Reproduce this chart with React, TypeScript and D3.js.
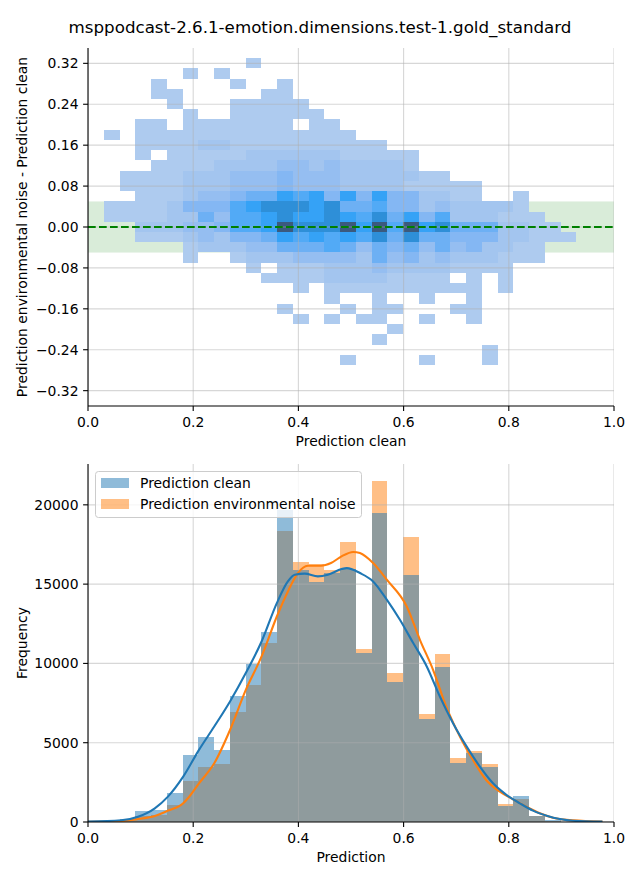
import React from "react";
import * as d3 from "d3";

const chartTitle = "msppodcast-2.6.1-emotion.dimensions.test-1.gold_standard";

// ---------- top: 2D histogram (density level per cell, rows top -> bottom) ----------
const heatXStart = 0.0304;
const heatXStep = 0.02993;
const heatYBottom = -0.2698;
const heatYStep = 0.02;
const heatRows = [
  "000000000100000000000000000000",
  "000001010000000000000000000000",
  "000100001001000000000000000000",
  "000110000011000000000000000000",
  "000010001111100000000000000000",
  "000001001111110000000000000000",
  "001101111111011000000000000000",
  "101111111111111100000000000000",
  "001111221111111111000000000000",
  "001011111222222111110000000000",
  "000111122223323222210000000000",
  "011112223334333222221100000000",
  "011112223334333222211111000000",
  "001112334557674747442211001000",
  "111124446788878556442322221000",
  "111122536678778768574622211100",
  "002223346679888979697855522110",
  "001112324457676768585544422111",
  "000001222335556535453534221100",
  "000001001222333325342322211100",
  "000000000101112223222211110000",
  "000000000011112222111101010000",
  "000000000000101111111111010000",
  "000000000000001001001001000000",
  "000000000001000101100011000000",
  "000000000000101011001001000000",
  "000000000000000000100000000000",
  "000000000000000001000000000000",
  "000000000000000000000000100000",
  "000000000000000100001000100000",
];
const topXTicks = [0, 0.2, 0.4, 0.6, 0.8, 1.0];
const topYTicks = [0.32, 0.24, 0.16, 0.08, 0, -0.08, -0.16, -0.24, -0.32];
const bandHalfWidth = 0.05;

// ---------- bottom: histograms ----------
const histStart = 0.0304;
const histStep = 0.02993;
const cleanCounts = [50, 200, 700, 760, 1830, 4230, 5370, 4545, 7950, 9975, 11990, 19700, 15910, 15150, 15700, 15970, 10670, 19510, 8840, 15590, 6500, 9790, 3720, 4360, 3470, 1010, 1640, 400, 100, 30];
const noiseCounts = [20, 100, 380, 420, 1070, 2590, 3470, 3660, 6940, 8650, 11300, 18370, 16410, 16270, 15900, 17680, 10920, 21530, 9400, 17990, 6820, 10600, 4040, 4480, 3660, 1140, 1450, 380, 90, 30];

const kdeCleanX = [0.0, 0.063, 0.095, 0.127, 0.152, 0.181, 0.211, 0.24, 0.27, 0.3, 0.33, 0.359, 0.38, 0.393, 0.412, 0.437, 0.456, 0.482, 0.492, 0.517, 0.542, 0.568, 0.593, 0.618, 0.644, 0.669, 0.694, 0.72, 0.745, 0.77, 0.796, 0.821, 0.846, 0.872, 0.897, 0.922, 0.978];
const kdeCleanY = [30, 107, 335, 865, 1600, 2860, 4545, 6020, 7600, 9390, 11380, 13800, 15170, 15590, 15660, 15490, 15590, 15950, 16010, 15700, 15170, 14020, 12750, 11300, 9810, 7910, 6230, 4750, 3490, 2440, 1700, 1180, 715, 400, 190, 82, 30];
const kdeNoiseX = [0.0, 0.063, 0.095, 0.127, 0.152, 0.181, 0.19, 0.211, 0.24, 0.27, 0.3, 0.33, 0.359, 0.38, 0.399, 0.418, 0.443, 0.462, 0.482, 0.504, 0.517, 0.542, 0.568, 0.606, 0.631, 0.656, 0.681, 0.707, 0.732, 0.757, 0.783, 0.808, 0.833, 0.859, 0.884, 0.922, 0.978];
const kdeNoiseY = [15, 60, 190, 380, 715, 1180, 1500, 2440, 3700, 5800, 8330, 10440, 12960, 14540, 15700, 16160, 16160, 16330, 16750, 17030, 16960, 16330, 15280, 13590, 11490, 9600, 7280, 5390, 3910, 2650, 1910, 1430, 970, 550, 270, 100, 30];

const botXTicks = [0, 0.2, 0.4, 0.6, 0.8, 1.0];
const botYTicks = [0, 5000, 10000, 15000, 20000];
const legendLabels = ["Prediction clean", "Prediction environmental noise"];

const FONT = "DejaVu Sans";
const BLUE = "#1f77b4";
const ORANGE = "#ff7f0e";

export default function App() {
  const W = 640, H = 880;
  const L = 88, R = 614;
  const T1 = 48, B1 = 406;
  const T2 = 464, B2 = 822;

  const xTop = d3.scaleLinear().domain([0, 1]).range([L, R]);
  const yTop = d3.scaleLinear().domain([-0.35, 0.35]).range([B1, T1]);
  const xBot = d3.scaleLinear().domain([0, 1]).range([L, R]);
  const yBot = d3.scaleLinear().domain([0, 22575]).range([B2, T2]);

  const heatColor = d3
    .scaleLinear<string>()
    .domain([1, 2, 3, 4, 5, 6, 7, 8, 9])
    .range(["#aecbef", "#a3c5ef", "#95bef1", "#84b7f3", "#6db0f4", "#52aaf6", "#35a2f6", "#2e8fd8", "#3b5a7e"]);

  const fmtTop = (v: number) => d3.format(".2f")(v).replace("-", "\u2212");
  const fmtX = d3.format(".1f");

  const cells: { x0: number; x1: number; y0: number; y1: number; v: number }[] = [];
  heatRows.forEach((row, i) => {
    const rowIdx = heatRows.length - 1 - i;
    const yb = heatYBottom + rowIdx * heatYStep;
    row.split("").forEach((ch, c) => {
      const v = +ch;
      if (v > 0) {
        const xa = heatXStart + c * heatXStep;
        cells.push({ x0: xa, x1: xa + heatXStep, y0: yb, y1: yb + heatYStep, v });
      }
    });
  });

  const lineGen = d3
    .line<[number, number]>()
    .x((d) => xBot(d[0]))
    .y((d) => yBot(d[1]))
    .curve(d3.curveMonotoneX);
  const cleanPath = lineGen(kdeCleanX.map((x, i) => [x, kdeCleanY[i]] as [number, number])) || "";
  const noisePath = lineGen(kdeNoiseX.map((x, i) => [x, kdeNoiseY[i]] as [number, number])) || "";

  const tickLen = 4.9;
  const gridStyle = { stroke: "#b0b0b0", strokeOpacity: 0.5, strokeWidth: 1.1 };

  const bars = (counts: number[], color: string) =>
    counts.map((c, k) => {
      const xa = histStart + k * histStep;
      const x0 = xBot(xa);
      const x1 = xBot(xa + histStep);
      return (
        <rect key={color + k} x={x0} y={yBot(c)} width={x1 - x0} height={yBot(0) - yBot(c)} fill={color} fillOpacity={0.5} shapeRendering="crispEdges" />
      );
    });

  return (
    <svg width={W} height={H} style={{ position: "absolute", left: 0, top: 0, background: "#fff" }} fontFamily={FONT}>
      <defs>
        <clipPath id="clipTop">
          <rect x={L} y={T1} width={R - L} height={B1 - T1} />
        </clipPath>
        <clipPath id="clipBot">
          <rect x={L} y={T2} width={R - L} height={B2 - T2} />
        </clipPath>
      </defs>
      <rect x={0} y={0} width={W} height={H} fill="#fff" />
      <text x={320} y={33} textAnchor="middle" fontSize={16.7} fill="#000">{chartTitle}</text>

      {/* ---------------- top axes ---------------- */}
      <g clipPath="url(#clipTop)">
        <rect x={L} y={yTop(bandHalfWidth)} width={R - L} height={yTop(-bandHalfWidth) - yTop(bandHalfWidth)} fill="#008000" fillOpacity={0.15} />
        {cells.map((c, i) => (
          <rect key={i} x={xTop(c.x0)} y={yTop(c.y1)} width={xTop(c.x1) - xTop(c.x0)} height={yTop(c.y0) - yTop(c.y1)} fill={heatColor(c.v)} shapeRendering="crispEdges" />
        ))}
        {topXTicks.map((t) => (
          <line key={"gx" + t} x1={xTop(t)} x2={xTop(t)} y1={T1} y2={B1} {...gridStyle} />
        ))}
        {topYTicks.map((t) => (
          <line key={"gy" + t} x1={L} x2={R} y1={yTop(t)} y2={yTop(t)} {...gridStyle} />
        ))}
        <line x1={L} x2={R} y1={yTop(0)} y2={yTop(0)} stroke="#008000" strokeWidth={2.1} strokeDasharray="7.7 3.3" />
      </g>
      <line x1={L} x2={L} y1={T1} y2={B1} stroke="#000" strokeWidth={1.1} />
      <line x1={L} x2={R} y1={B1} y2={B1} stroke="#000" strokeWidth={1.1} />
      {topXTicks.map((t) => (
        <g key={"tx" + t}>
          <line x1={xTop(t)} x2={xTop(t)} y1={B1} y2={B1 + tickLen} stroke="#000" strokeWidth={1.1} />
          <text x={xTop(t)} y={B1 + 21} textAnchor="middle" fontSize={13.9}>{fmtX(t)}</text>
        </g>
      ))}
      {topYTicks.map((t) => (
        <g key={"ty" + t}>
          <line x1={L - tickLen} x2={L} y1={yTop(t)} y2={yTop(t)} stroke="#000" strokeWidth={1.1} />
          <text x={L - 9.5} y={yTop(t) + 5} textAnchor="end" fontSize={13.9}>{fmtTop(t)}</text>
        </g>
      ))}
      <text x={(L + R) / 2} y={446} textAnchor="middle" fontSize={13.9}>Prediction clean</text>
      <text transform={`translate(27,${(T1 + B1) / 2}) rotate(-90)`} textAnchor="middle" fontSize={13.9}>
        Prediction environmental noise - Prediction clean
      </text>

      {/* ---------------- bottom axes ---------------- */}
      <g clipPath="url(#clipBot)">
        {bars(noiseCounts, ORANGE)}
        {bars(cleanCounts, BLUE)}
        {botXTicks.map((t) => (
          <line key={"bgx" + t} x1={xBot(t)} x2={xBot(t)} y1={T2} y2={B2} {...gridStyle} />
        ))}
        {botYTicks.map((t) => (
          <line key={"bgy" + t} x1={L} x2={R} y1={yBot(t)} y2={yBot(t)} {...gridStyle} />
        ))}
        <path d={noisePath} fill="none" stroke={ORANGE} strokeWidth={2.1} />
        <path d={cleanPath} fill="none" stroke={BLUE} strokeWidth={2.1} />
      </g>
      <line x1={L} x2={L} y1={T2} y2={B2} stroke="#000" strokeWidth={1.1} />
      <line x1={L} x2={R} y1={B2} y2={B2} stroke="#000" strokeWidth={1.1} />
      {botXTicks.map((t) => (
        <g key={"bx" + t}>
          <line x1={xBot(t)} x2={xBot(t)} y1={B2} y2={B2 + tickLen} stroke="#000" strokeWidth={1.1} />
          <text x={xBot(t)} y={B2 + 21} textAnchor="middle" fontSize={13.9}>{fmtX(t)}</text>
        </g>
      ))}
      {botYTicks.map((t) => (
        <g key={"by" + t}>
          <line x1={L - tickLen} x2={L} y1={yBot(t)} y2={yBot(t)} stroke="#000" strokeWidth={1.1} />
          <text x={L - 9.5} y={yBot(t) + 5} textAnchor="end" fontSize={13.9}>{String(t)}</text>
        </g>
      ))}
      <text x={(L + R) / 2} y={862} textAnchor="middle" fontSize={13.9}>Prediction</text>
      <text transform={`translate(27,${(T2 + B2) / 2}) rotate(-90)`} textAnchor="middle" fontSize={13.9}>Frequency</text>

      {/* legend */}
      <g>
        <rect x={95.5} y={471.5} width={266} height={46} rx={3} fill="#fff" fillOpacity={0.8} stroke="#cccccc" strokeWidth={1} />
        {legendLabels.map((lab, i) => (
          <g key={lab}>
            <rect x={101} y={478 + i * 21} width={28} height={10} fill={i === 0 ? BLUE : ORANGE} fillOpacity={0.5} />
            <text x={140} y={488 + i * 21} fontSize={13.9}>{lab}</text>
          </g>
        ))}
      </g>
    </svg>
  );
}
